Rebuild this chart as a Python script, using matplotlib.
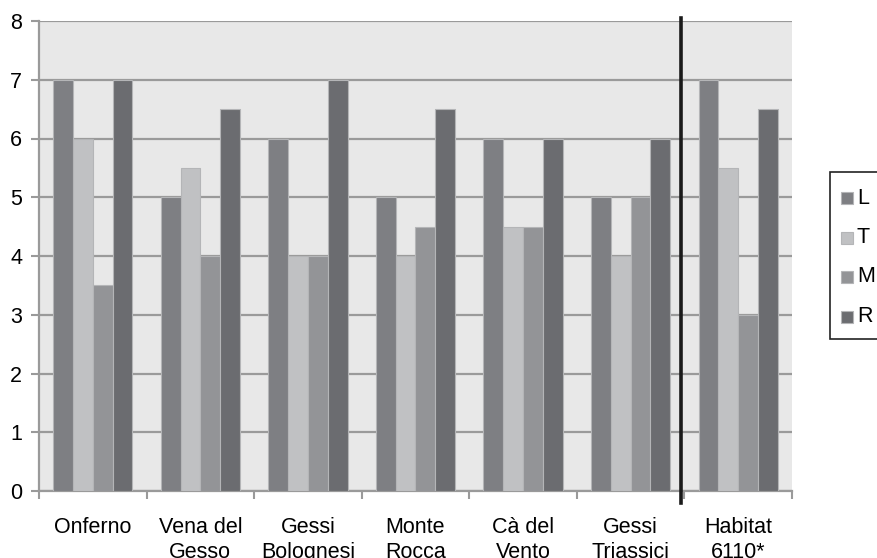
import matplotlib
matplotlib.use("Agg")
import matplotlib.pyplot as plt
from matplotlib.patches import Rectangle
import numpy as np

plt.rcParams['font.family'] = ['Liberation Sans', 'DejaVu Sans']

categories = ["Onferno", "Vena del\nGesso", "Gessi\nBolognesi", "Monte\nRocca",
              "Cà del\nVento", "Gessi\nTriassici", "Habitat\n6110*"]
series = ["L", "T", "M", "R"]
L = [7, 5, 6, 5, 6, 5, 7]
T = [6, 5.5, 4, 4, 4.5, 4, 5.5]
M = [3.5, 4, 4, 4.5, 4.5, 5, 3]
R = [7, 6.5, 7, 6.5, 6, 6, 6.5]
yticks = [0, 1, 2, 3, 4, 5, 6, 7, 8]

values = [L, T, M, R]
colors = ["#7e7f83", "#c0c1c3", "#939497", "#6b6c70"]

W, H = 878, 558
fig = plt.figure(figsize=(W / 100, H / 100), dpi=100)
ax = fig.add_axes([39 / W, (H - 491) / H, (792 - 39) / W, (491 - 21) / H])
ax.set_facecolor("#e8e8e8")

x = np.arange(len(categories))
bw = 0.184
for i, (vals, c) in enumerate(zip(values, colors)):
    ax.bar(x + (i - 1.5) * bw, vals, width=bw, color=c,
           edgecolor="#b4b5b7", linewidth=0.8, zorder=3)

ax.set_xlim(-0.5, len(categories) - 0.5)
ax.set_ylim(0, 8)
ax.set_yticks(yticks)
ax.yaxis.grid(True, color="#9a9a9a", linewidth=1.6, zorder=1)
ax.set_axisbelow(True)

# category boundaries carry the tick marks, centres carry the labels
ax.set_xticks(np.arange(len(categories) + 1) - 0.5)
ax.set_xticklabels([])
ax.set_xticks(x, minor=True)
ax.set_xticklabels(categories, minor=True, fontsize=15.5, linespacing=1.25)
ax.tick_params(axis="x", which="major", length=6, width=1.5, color="#9a9a9a")
ax.tick_params(axis="x", which="minor", length=0, pad=19)
ax.tick_params(axis="y", length=6, width=1.5, color="#9a9a9a", labelsize=15.5, pad=6)

for s in ["top", "right"]:
    ax.spines[s].set_visible(False)
for s in ["left", "bottom"]:
    ax.spines[s].set_color("#9a9a9a")
    ax.spines[s].set_linewidth(1.6)

# divider between the sites and the habitat reference
ax.plot([5.47, 5.47], [-0.2, 8.05], color="#1a1a1a", linewidth=2.6,
        clip_on=False, zorder=5)

# legend
fig.add_artist(Rectangle((830 / W, (H - 339) / H), 80 / W, 167 / H,
                         transform=fig.transFigure, facecolor="white",
                         edgecolor="#222222", linewidth=1.2, clip_on=False))
for i, (name, c) in enumerate(zip(series, colors)):
    yc = 198 + i * 39.5
    fig.add_artist(Rectangle((841 / W, (H - yc - 6) / H), 12 / W, 12 / H,
                             transform=fig.transFigure, facecolor=c,
                             edgecolor="#b4b5b7", linewidth=0.8))
    fig.text(857 / W, (H - yc) / H, name, fontsize=15.5, va="center", ha="left")

fig.savefig("out.png", dpi=100)
